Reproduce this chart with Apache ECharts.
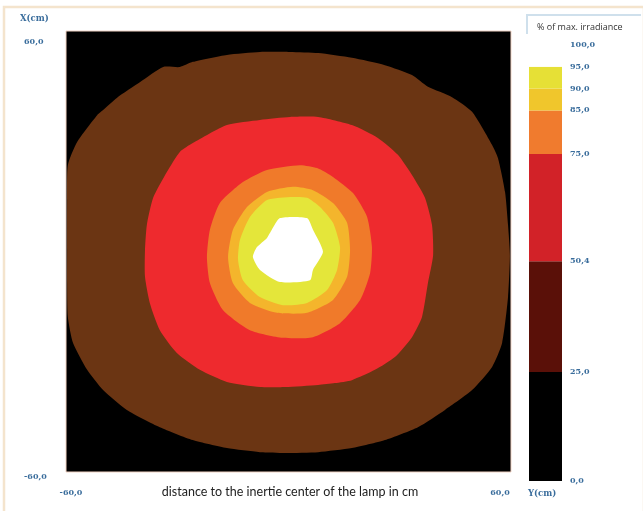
<!DOCTYPE html>
<html>
<head>
<meta charset="utf-8">
<title>Irradiance map</title>
<script src="https://cdn.jsdelivr.net/npm/echarts@6/dist/echarts.min.js"></script>
<style>
  html, body { margin: 0; padding: 0; background: #fff; }
  #chart { width: 643px; height: 511px; }
</style>
</head>
<body>
<div id="chart"></div>
<script>
// irradiance classes (% of max.) and their tick labels
var levels = [0, 25, 50.4, 75, 85, 90, 95, 100];
var levelLabels = ['0,0', '25,0', '50,4', '75,0', '85,0', '90,0', '95,0', '100,0'];
var mapColors = ['#000000', '#6b3513', '#ee2a2e', '#f07a2a', '#f4b52c', '#e4e63a', '#ffffff'];
var barColors = ['#000000', '#5a1008', '#d22228', '#f07b2e', '#f0c62c', '#e6e036', '#ffffff'];
var axisTicks = [-60, 60];

// iso-lines [x cm, y cm]
var contour25 = [[0.4, 54.3], [8.0, 54.0], [17.1, 52.7], [26.0, 50.7], [33.3, 48.0], [37.6, 44.8],
  [44.1, 42.0], [49.5, 38.0], [54.9, 29.0], [56.5, 25.4], [58.4, 16.2], [59.2, 7.2], [59.7, -1.0],
  [59.2, -12.4], [57.6, -24.9], [54.9, -31.4], [49.5, -37.7], [42.2, -43.1], [34.9, -47.8],
  [26.0, -51.3], [17.1, -53.5], [8.0, -54.6], [-0.9, -54.8], [-7.7, -54.6], [-16.6, -53.5],
  [-25.8, -51.3], [-34.7, -47.8], [-43.6, -43.1], [-50.0, -37.7], [-54.3, -32.2], [-58.1, -24.9],
  [-59.5, -17.8], [-59.7, -8.6], [-59.7, 0.4], [-59.7, 14.0], [-59.5, 23.5], [-57.0, 29.8],
  [-51.6, 37.1], [-50.0, 38.5], [-46.3, 41.8], [-40.0, 46.1], [-33.8, 50.2], [-29.3, 50.2],
  [-25.8, 51.6], [-16.6, 53.5], [-7.7, 54.3]];
var contour504 = [[0.4, 36.6], [8.0, 36.6], [17.1, 34.4], [24.1, 30.9], [29.5, 26.3], [33.3, 20.8],
  [36.8, 14.6], [38.7, 7.2], [39.0, -1.0], [37.6, -8.6], [36.0, -17.8], [33.3, -23.3], [28.7, -28.7],
  [23.3, -32.2], [17.1, -35.0], [12.5, -35.8], [8.0, -36.3], [-0.9, -36.9], [-7.7, -36.9],
  [-16.6, -35.5], [-23.9, -32.2], [-30.1, -27.6], [-34.7, -21.4], [-37.4, -14.0], [-38.7, -6.9],
  [-38.7, 0.4], [-38.2, 7.2], [-36.5, 14.6], [-32.8, 21.6], [-29.3, 27.1], [-25.8, 29.5],
  [-16.6, 34.4], [-7.7, 35.8]];
var contour75 = [[3.1, 23.5], [7.7, 22.7], [12.0, 20.3], [17.4, 15.9], [21.2, 9.4], [22.5, 1.2],
  [22.0, -5.9], [19.3, -13.2], [13.9, -19.5], [6.6, -23.3], [-1.5, -23.5], [-10.4, -21.4],
  [-17.7, -15.9], [-21.2, -8.6], [-22.0, -1.5], [-21.2, 5.9], [-18.5, 13.2], [-12.3, 18.9],
  [-5.8, 22.2]];
var contour85 = [[1.2, 17.6], [6.6, 16.7], [12.0, 13.2], [15.8, 7.8], [16.6, 0.4], [15.8, -6.9],
  [12.0, -13.2], [5.0, -16.7], [-3.1, -16.7], [-10.4, -14.0], [-15.0, -8.6], [-16.3, -1.5],
  [-15.0, 5.9], [-11.2, 12.1], [-5.8, 16.2]];
var contour90 = [[1.2, 14.8], [5.0, 14.6], [8.5, 12.1], [12.0, 7.8], [13.9, 1.2], [13.1, -5.0],
  [10.4, -10.5], [5.0, -14.0], [-1.5, -14.6], [-7.7, -12.4], [-12.3, -7.8], [-13.6, -2.3],
  [-13.1, 3.1], [-10.4, 9.4], [-5.8, 14.0]];
var contour95 = [[-2.3, 9.1], [5.0, 9.1], [6.6, 5.9], [9.3, -0.1], [6.6, -5.0], [5.8, -7.8],
  [-2.3, -8.3], [-7.7, -5.0], [-9.6, -1.5], [-8.5, 1.2], [-5.8, 3.7], [-4.5, 5.9]];
var contours = [contour25, contour504, contour75, contour85, contour90, contour95];

var blueText = { color: '#3a6d9c', fontFamily: 'DejaVu Serif', fontWeight: 'bold', fontSize: 8 };

function fmt(v) {
  return v.toFixed(1).replace('.', ',');
}

var chart = echarts.init(document.getElementById('chart'), null, { renderer: 'canvas' });

var series = [{
  type: 'custom',
  xAxisIndex: 0,
  yAxisIndex: 0,
  silent: true,
  clip: true,
  data: contours.map(function (c, i) { return [0, 0, levels[i + 1]]; }),
  renderItem: function (params, api) {
    var pts = contours[params.dataIndex].map(function (p) { return api.coord(p); });
    return {
      type: 'polygon',
      shape: { points: pts, smooth: 0.2 },
      style: { fill: mapColors[params.dataIndex + 1] }
    };
  }
}];

// colour scale drawn as one stacked bar
for (var i = 0; i < levels.length - 1; i++) {
  series.push({
    type: 'bar',
    xAxisIndex: 1,
    yAxisIndex: 1,
    stack: 'scale',
    barWidth: '100%',
    silent: true,
    data: [+(levels[i + 1] - levels[i]).toFixed(1)],
    itemStyle: { color: barColors[i] }
  });
}

var option = {
  backgroundColor: '#ffffff',
  animation: false,
  grid: [
    { left: 66, top: 31, width: 445, height: 441, show: true, backgroundColor: '#000',
      borderColor: '#f1d3c4', borderWidth: 1 },
    { left: 529, top: 45, width: 33, height: 436 }
  ],
  xAxis: [{
    type: 'value', gridIndex: 0, min: -60, max: 60,
    axisLine: { show: false }, axisTick: { show: false }, splitLine: { show: false },
    axisLabel: {
      customValues: axisTicks, margin: 17,
      formatter: function (v) { return v < 0 ? '{a|' + fmt(v) + '}' : '{b|' + fmt(v) + '}'; },
      rich: {
        a: Object.assign({ padding: [0, 0, 0, 10] }, blueText),
        b: Object.assign({ padding: [0, 22, 0, 0] }, blueText)
      }
    }
  }, {
    type: 'category', gridIndex: 1, data: ['scale'], show: false
  }],
  yAxis: [{
    type: 'value', gridIndex: 0, min: -60, max: 60,
    axisLine: { show: false }, axisTick: { show: false }, splitLine: { show: false },
    axisLabel: {
      customValues: axisTicks, margin: 42, align: 'left',
      formatter: function (v) { return v < 0 ? '{a|' + fmt(v) + '}' : '{b|' + fmt(v) + '}'; },
      rich: {
        a: Object.assign({ padding: [10, 0, 0, 0] }, blueText),
        b: Object.assign({ padding: [22, 0, 0, 0] }, blueText)
      }
    }
  }, {
    type: 'value', gridIndex: 1, min: 0, max: 100, position: 'right',
    axisLine: { show: false }, axisTick: { show: false }, splitLine: { show: false },
    axisLabel: Object.assign({
      customValues: levels, margin: 8, align: 'left',
      formatter: function (v) { return levelLabels[levels.indexOf(v)]; }
    }, blueText)
  }],
  graphic: [
    { type: 'rect', silent: true, shape: { x: 4, y: 7, width: 640, height: 520 },
      style: { fill: 'none', stroke: '#f4e4cd', lineWidth: 2.5 } },
    { type: 'polyline', silent: true, shape: { points: [[527, 34], [527, 15], [641, 15]] },
      style: { fill: 'none', stroke: '#cfe0ec', lineWidth: 2 } },
    { type: 'text', silent: true, x: 537, y: 27,
      style: { text: '% of max. irradiance', fontFamily: 'Open Sans', fontSize: 9, fill: '#333',
        verticalAlign: 'middle' } },
    { type: 'text', silent: true, x: 20, y: 19,
      style: { text: 'X(cm)', verticalAlign: 'middle', fill: blueText.color,
        font: 'bold 8.5px "DejaVu Serif"' } },
    { type: 'text', silent: true, x: 528, y: 494,
      style: { text: 'Y(cm)', verticalAlign: 'middle', fill: blueText.color,
        font: 'bold 8.5px "DejaVu Serif"' } },
    { type: 'text', silent: true, x: 290, y: 492,
      style: { text: 'distance to the inertie center of the lamp in cm', align: 'center',
        verticalAlign: 'middle', fontFamily: 'Lato', fontSize: 12.5, fill: '#222' } }
  ],
  series: series
};

chart.setOption(option);
</script>
</body>
</html>
